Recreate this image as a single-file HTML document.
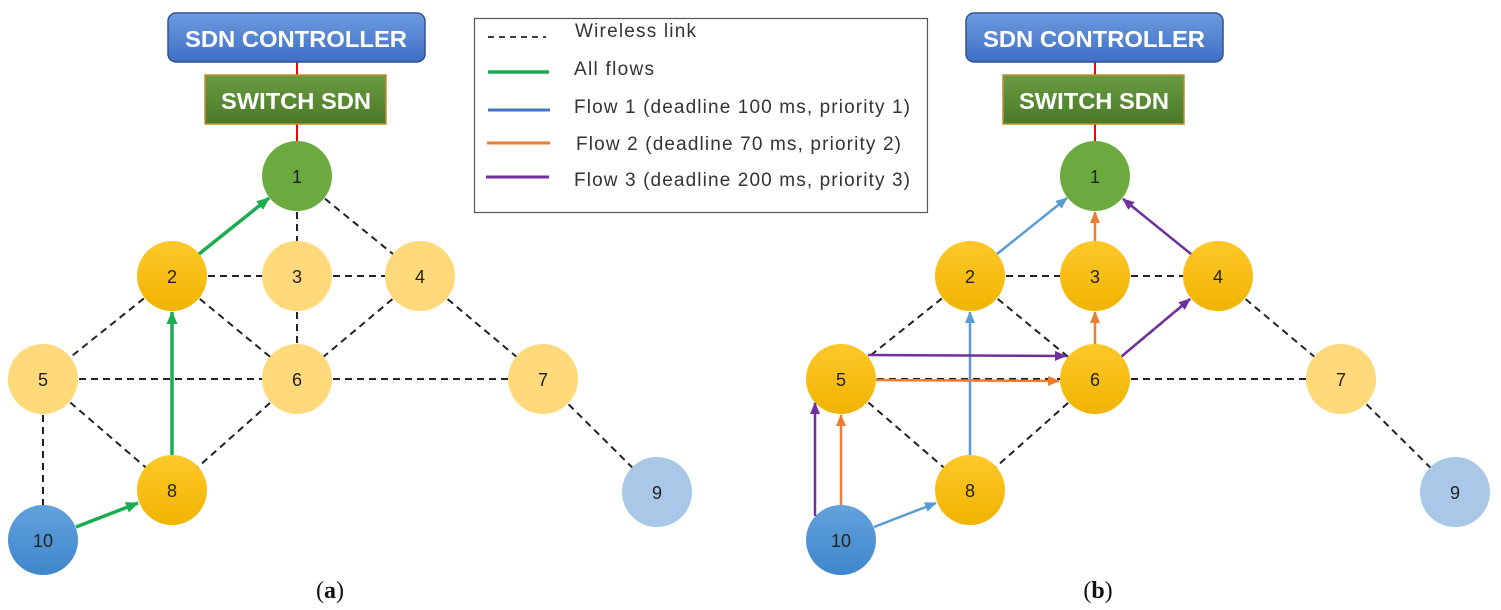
<!DOCTYPE html>
<html><head><meta charset="utf-8"><style>
body{margin:0;background:#fff;}
svg{display:block;font-family:"Liberation Sans",sans-serif;}
</style></head><body>
<svg width="1501" height="610" viewBox="0 0 1501 610" xmlns="http://www.w3.org/2000/svg">
<defs>
<linearGradient id="gc" x1="0" y1="0" x2="0" y2="1"><stop offset="0" stop-color="#6d9be0"/><stop offset="1" stop-color="#3f6fc4"/></linearGradient>
<linearGradient id="gs" x1="0" y1="0" x2="0" y2="1"><stop offset="0" stop-color="#6a9a40"/><stop offset="1" stop-color="#4a7a28"/></linearGradient>
<linearGradient id="go" x1="0" y1="0" x2="0" y2="1"><stop offset="0" stop-color="#ffc82a"/><stop offset="1" stop-color="#f0b400"/></linearGradient>
<linearGradient id="gb" x1="0" y1="0" x2="0" y2="1"><stop offset="0" stop-color="#62a2dc"/><stop offset="1" stop-color="#3f86cc"/></linearGradient>
<marker id="mg" markerWidth="13" markerHeight="11" refX="12" refY="5.5" orient="auto" markerUnits="userSpaceOnUse"><path d="M0,0 L13,5.5 L0,11z" fill="#1aad50"/></marker>
<marker id="mb" markerWidth="12" markerHeight="10" refX="11" refY="5" orient="auto" markerUnits="userSpaceOnUse"><path d="M0,0 L12,5 L0,10z" fill="#5b9bd5"/></marker>
<marker id="mo" markerWidth="12" markerHeight="10" refX="11" refY="5" orient="auto" markerUnits="userSpaceOnUse"><path d="M0,0 L12,5 L0,10z" fill="#ed7d31"/></marker>
<marker id="mp" markerWidth="12" markerHeight="10" refX="11" refY="5" orient="auto" markerUnits="userSpaceOnUse"><path d="M0,0 L12,5 L0,10z" fill="#7030a0"/></marker>
<g id="net">
<line x1="297" y1="62" x2="297" y2="141" stroke="#f00" stroke-width="2"/>
<rect x="168" y="13" width="257" height="49" rx="8" fill="url(#gc)" stroke="#2f528f" stroke-width="1.5"/>
<text x="296" y="47" text-anchor="middle" fill="#fff" font-weight="bold" font-size="23" textLength="222" lengthAdjust="spacingAndGlyphs">SDN CONTROLLER</text>
<rect x="205" y="75" width="181" height="49" fill="url(#gs)" stroke="#c09030" stroke-width="1.5"/>
<text x="296" y="109" text-anchor="middle" fill="#fff" font-weight="bold" font-size="23" textLength="150" lengthAdjust="spacingAndGlyphs">SWITCH SDN</text>
<g stroke="#222" stroke-width="2" stroke-dasharray="7,5" fill="none">
<line x1="297" y1="176" x2="297" y2="276"/><line x1="297" y1="176" x2="420" y2="276"/>
<line x1="172" y1="276" x2="297" y2="276"/><line x1="297" y1="276" x2="420" y2="276"/>
<line x1="172" y1="276" x2="43" y2="379"/><line x1="172" y1="276" x2="297" y2="379"/>
<line x1="297" y1="276" x2="297" y2="379"/><line x1="420" y1="276" x2="297" y2="379"/>
<line x1="420" y1="276" x2="543" y2="379"/><line x1="43" y1="379" x2="297" y2="379"/>
<line x1="297" y1="379" x2="543" y2="379"/><line x1="43" y1="379" x2="172" y2="490"/>
<line x1="43" y1="379" x2="43" y2="540"/><line x1="297" y1="379" x2="172" y2="490"/>
<line x1="543" y1="379" x2="657" y2="492"/>
</g>
</g>
</defs>
<use href="#net"/>
<g font-size="18" text-anchor="middle" fill="#222">
<circle cx="297" cy="176" r="35" fill="#6aaa3f"/><text x="297" y="183">1</text>
<circle cx="172" cy="276" r="35" fill="url(#go)"/><text x="172" y="283">2</text>
<circle cx="297" cy="276" r="35" fill="#ffd97a"/><text x="297" y="283">3</text>
<circle cx="420" cy="276" r="35" fill="#ffd97a"/><text x="420" y="283">4</text>
<circle cx="43" cy="379" r="35" fill="#ffd97a"/><text x="43" y="386">5</text>
<circle cx="297" cy="379" r="35" fill="#ffd97a"/><text x="297" y="386">6</text>
<circle cx="543" cy="379" r="35" fill="#ffd97a"/><text x="543" y="386">7</text>
<circle cx="172" cy="490" r="35" fill="url(#go)"/><text x="172" y="497">8</text>
<circle cx="657" cy="492" r="35" fill="#a9c8e8"/><text x="657" y="499">9</text>
<circle cx="43" cy="540" r="35" fill="url(#gb)"/><text x="43" y="547">10</text>
</g>
<g stroke="#1aad50" stroke-width="3.5" marker-end="url(#mg)">
<line x1="199" y1="254" x2="269" y2="198"/>
<line x1="172" y1="455" x2="172" y2="312"/>
<line x1="76" y1="527" x2="138" y2="503"/>
</g>
<use href="#net" transform="translate(798,0)"/>
<g font-size="18" text-anchor="middle" fill="#222">
<circle cx="1095" cy="176" r="35" fill="#6aaa3f"/><text x="1095" y="183">1</text>
<circle cx="970" cy="276" r="35" fill="url(#go)"/><text x="970" y="283">2</text>
<circle cx="1095" cy="276" r="35" fill="url(#go)"/><text x="1095" y="283">3</text>
<circle cx="1218" cy="276" r="35" fill="url(#go)"/><text x="1218" y="283">4</text>
<circle cx="841" cy="379" r="35" fill="url(#go)"/><text x="841" y="386">5</text>
<circle cx="1095" cy="379" r="35" fill="url(#go)"/><text x="1095" y="386">6</text>
<circle cx="1341" cy="379" r="35" fill="#ffd97a"/><text x="1341" y="386">7</text>
<circle cx="970" cy="490" r="35" fill="url(#go)"/><text x="970" y="497">8</text>
<circle cx="1455" cy="492" r="35" fill="#a9c8e8"/><text x="1455" y="499">9</text>
<circle cx="841" cy="540" r="35" fill="url(#gb)"/><text x="841" y="547">10</text>
</g>
<g stroke-width="2.5">
<g stroke="#5b9bd5" marker-end="url(#mb)">
<line x1="997" y1="254" x2="1067" y2="198"/>
<line x1="970" y1="455" x2="970" y2="312"/>
<line x1="874" y1="527" x2="936" y2="503"/>
</g>
<g stroke="#ed7d31" marker-end="url(#mo)">
<line x1="1095" y1="241" x2="1095" y2="212"/>
<line x1="1095" y1="344" x2="1095" y2="312"/>
<line x1="876" y1="380" x2="1059" y2="381"/>
<line x1="841" y1="505" x2="841" y2="415"/>
</g>
<g stroke="#7030a0" marker-end="url(#mp)">
<line x1="1191" y1="254" x2="1123" y2="199"/>
<line x1="1122" y1="356" x2="1190" y2="299"/>
<line x1="868" y1="355" x2="1066" y2="356"/>
<line x1="815" y1="516" x2="815" y2="403"/>
</g>
</g>
<rect x="474.5" y="18.5" width="453" height="194" fill="#fff" stroke="#555" stroke-width="1.2"/>
<line x1="488" y1="37" x2="546" y2="37" stroke="#222" stroke-width="1.8" stroke-dasharray="6,5"/>
<line x1="488" y1="72" x2="549" y2="72" stroke="#1aad50" stroke-width="3.5"/>
<line x1="488" y1="110" x2="550" y2="110" stroke="#4472c4" stroke-width="3"/>
<line x1="487" y1="143" x2="550" y2="143" stroke="#ed7d31" stroke-width="3"/>
<line x1="486" y1="177" x2="549" y2="177" stroke="#7030a0" stroke-width="3"/>
<g font-size="19" fill="#333" lengthAdjust="spacingAndGlyphs">
<text x="575" y="37" textLength="121">Wireless link</text>
<text x="574" y="75" textLength="80">All flows</text>
<text x="574" y="113" textLength="336">Flow 1 (deadline 100 ms, priority 1)</text>
<text x="576" y="150" textLength="325">Flow 2 (deadline 70 ms, priority 2)</text>
<text x="574" y="186" textLength="336">Flow 3 (deadline 200 ms, priority 3)</text>
</g>
<g font-family="Liberation Serif,serif" font-size="24" fill="#111" text-anchor="middle">
<text x="330" y="598">(<tspan font-weight="bold">a</tspan>)</text>
<text x="1098" y="598">(<tspan font-weight="bold">b</tspan>)</text>
</g>
</svg>
</body></html>
